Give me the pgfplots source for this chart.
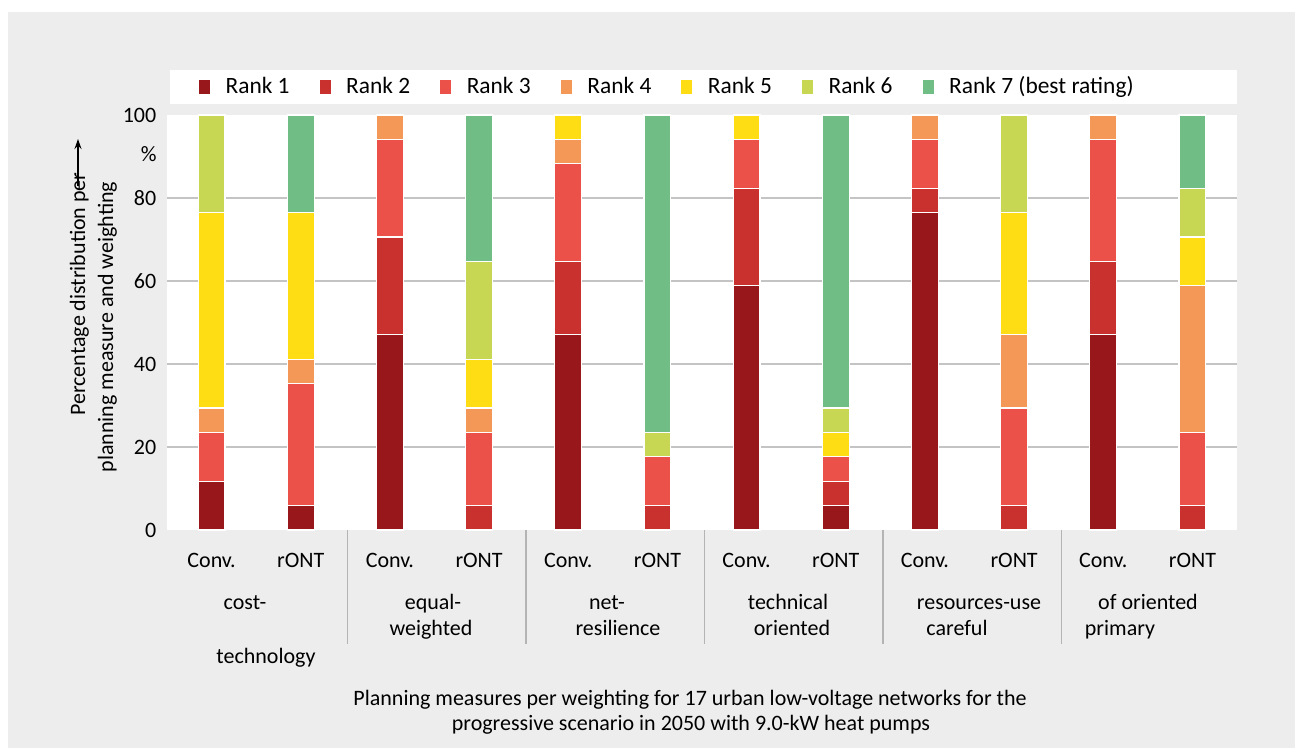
\documentclass[border=0pt]{standalone}
\usepackage{fontspec}
\setmainfont{Carlito}
\usepackage{pgfplots}
\pgfplotsset{compat=1.18}
\usepackage{pgfplotstable}
\usetikzlibrary{arrows.meta}

\definecolor{rOne}{HTML}{98171A}
\definecolor{rTwo}{HTML}{C8312D}
\definecolor{rThree}{HTML}{EB5149}
\definecolor{rFour}{HTML}{F49858}
\definecolor{rFive}{HTML}{FFDD15}
\definecolor{rSix}{HTML}{C7D753}
\definecolor{rSeven}{HTML}{70BE86}
\definecolor{panel}{HTML}{EDEDED}
\definecolor{gridgray}{HTML}{C4C4C4}
\definecolor{sepgray}{HTML}{B4B4B4}

% Share of the 17 networks (in %) per rank, for each planning measure and weighting
% x: 0/1 cost, 2/3 equal, 4/5 net, 6/7 technical, 8/9 resources, 10/11 primary (Conv./rONT)
\pgfplotstableread{
x  r1     r2     r3     r4     r5     r6     r7
0  11.76  0      11.76  5.88   47.06  23.53  0
1  5.88   0      29.41  5.88   35.29  0      23.53
2  47.06  23.53  23.53  5.88   0      0      0
3  0      5.88   17.65  5.88   11.76  23.53  35.29
4  47.06  17.65  23.53  5.88   5.88   0      0
5  0      5.88   11.76  0      0      5.88   76.47
6  58.82  23.53  11.76  0      5.88   0      0
7  5.88   5.88   5.88   0      5.88   5.88   70.59
8  76.47  5.88   11.76  5.88   0      0      0
9  0      5.88   23.53  17.65  29.41  23.53  0
10 47.06  17.65  29.41  5.88   0      0      0
11 0      5.88   17.65  35.29  11.76  11.76  17.65
}\ranks

\begin{document}
\fontsize{11pt}{13pt}\selectfont
\begin{tikzpicture}
% page and grey panel
\fill[white] (0,0) rectangle (649pt,375.5pt);
\fill[panel] (4pt,1.5pt) rectangle (647.5pt,369.5pt);
% white strip behind the legend
\fill[white] (85pt,323.5pt) rectangle (618.5pt,340.5pt);

\begin{axis}[
  at={(83.5pt,110.5pt)}, anchor=south west,
  scale only axis, width=535pt, height=207.5pt,
  ybar stacked, bar width=0.3,
  xmin=-0.5, xmax=11.5, ymin=0, ymax=100,
  xtick={0,...,11},
  xticklabels={Conv.,rONT,Conv.,rONT,Conv.,rONT,Conv.,rONT,Conv.,rONT,Conv.,rONT},
  xticklabel style={anchor=base, yshift=-19pt},
  ytick={0,20,...,100},
  yticklabel style={xshift=-1.5pt},
  extra y ticks={20,40,60,80},
  extra y tick labels={},
  extra y tick style={grid=major},
  major grid style={draw=gridgray, line width=0.6pt},
  axis line style={draw=none},
  major tick length=0pt,
  axis background/.style={fill=white},
  clip=false,
  /pgf/number format/assume math mode=true,
  legend columns=7,
  legend style={draw=none, fill=none, inner sep=0pt, outer sep=0pt,
    font=\fontsize{11.7pt}{13pt}\selectfont,
    at={(axis description cs:0.0299,1.0675)}, anchor=west,
    nodes={inner sep=0pt},
    /tikz/every odd column/.append style={column sep=7.8pt},
    /tikz/every even column/.append style={column sep=15pt}},
  legend image code/.code={\fill[#1,draw=none] (0pt,-3.5pt) rectangle (5.5pt,3.5pt);},
  every axis plot/.append style={draw=white, line width=0.6pt},
]
\addplot[fill=rOne]   table[x=x,y=r1]{\ranks};
\addplot[fill=rTwo]   table[x=x,y=r2]{\ranks};
\addplot[fill=rThree] table[x=x,y=r3]{\ranks};
\addplot[fill=rFour]  table[x=x,y=r4]{\ranks};
\addplot[fill=rFive]  table[x=x,y=r5]{\ranks};
\addplot[fill=rSix]   table[x=x,y=r6]{\ranks};
\addplot[fill=rSeven] table[x=x,y=r7]{\ranks};
\legend{Rank 1,Rank 2,Rank 3,Rank 4,Rank 5,Rank 6,Rank 7 (best rating)}
\end{axis}

% annotations, in pixel-like units measured from the top left corner
\begin{scope}[x=0.5pt,y=-0.5pt,yshift=375.5pt]
  % separators between the weightings
  \foreach \sx in {347.5,526,704.5,883,1061.5}
    \draw[sepgray, line width=0.6pt] (\sx,530) -- (\sx,644);
  % unit
  \node[anchor=base east, inner sep=0pt] at (157,162) {\%};
  % y axis label with arrow
  \node[rotate=90, anchor=base, inner sep=0pt] at (85,294) {Percentage distribution per};
  \node[rotate=90, anchor=base, inner sep=0pt] at (113,327) {planning measure and weighting};
  \draw[line width=0.6pt, -{Stealth[length=5pt,width=3.5pt]}] (78,186) -- (78,139);
  % weighting names
  \node[anchor=base, inner sep=0pt] at (245,610) {cost-};
  \node[anchor=base, inner sep=0pt] at (266,663) {technology};
  \node[anchor=base, inner sep=0pt] at (433,610) {equal-};
  \node[anchor=base, inner sep=0pt] at (431,636) {weighted};
  \node[anchor=base, inner sep=0pt] at (607,610) {net-};
  \node[anchor=base, inner sep=0pt] at (618,636) {resilience};
  \node[anchor=base, inner sep=0pt] at (788,610) {technical};
  \node[anchor=base, inner sep=0pt] at (792,636) {oriented};
  \node[anchor=base, inner sep=0pt] at (979,610) {resources-use};
  \node[anchor=base, inner sep=0pt] at (957,636) {careful};
  \node[anchor=base, inner sep=0pt] at (1148,610) {of oriented};
  \node[anchor=base, inner sep=0pt] at (1120,636) {primary};
  % caption
  \node[anchor=base, inner sep=0pt] at (690,705) {Planning measures per weighting for 17 urban low-voltage networks for the};
  \node[anchor=base, inner sep=0pt] at (691,731) {progressive scenario in 2050 with 9.0-kW heat pumps};
\end{scope}
\end{tikzpicture}
\end{document}
